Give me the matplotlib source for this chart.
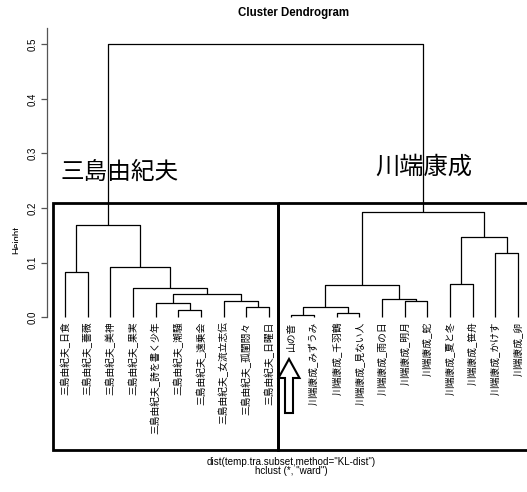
import numpy as np
import matplotlib
matplotlib.use('Agg')
import matplotlib.pyplot as plt
from matplotlib.patches import Rectangle, Polygon

plt.rcParams['font.family'] = ['Liberation Sans', 'DejaVu Sans']
JP = ['Noto Sans CJK JP', 'DejaVu Sans']

# leaf labels in dendrogram order
labels = ['三島由紀夫_日食', '三島由紀夫_薔薇', '三島由紀夫_美神', '三島由紀夫_果実',
          '三島由紀夫_詩を書く少年', '三島由紀夫_潮騒', '三島由紀夫_遠乗会',
          '三島由紀夫_女流立志伝', '三島由紀夫_孤閨悶々', '三島由紀夫_日曜日',
          '山の音', '川端康成_みずうみ', '川端康成_千羽鶴', '川端康成_見ない人',
          '川端康成_雨の日', '川端康成_明月', '川端康成_蛇', '川端康成_夏と冬',
          '川端康成_笹舟', '川端康成_かけす', '川端康成_卵']

# R style merge table: negative = leaf (1-based position), positive = earlier merge
merge_a = [-11, -13, -6, -9, 1, -5, -8, -16, -15, 6, -4, 5, -18, -1, -3, -20, 13, 14, 12, 18]
merge_b = [-12, -14, -7, -10, 2, 3, 4, -17, 8, 7, 10, 9, -19, -2, 11, -21, 16, 15, 17, 19]
heights = [0.004, 0.008, 0.013, 0.018, 0.019, 0.025, 0.029, 0.029, 0.034, 0.042,
           0.054, 0.058, 0.061, 0.083, 0.091, 0.117, 0.146, 0.169, 0.192, 0.500]

yticks = [0.0, 0.1, 0.2, 0.3, 0.4, 0.5]

W, H = 527, 492
fig = plt.figure(figsize=(W / 100, H / 100), dpi=100)

# main plot region (pixel positions)
left_px, right_px, top_px, bot_px = 47, 527, 28, 328
ax = fig.add_axes([left_px / W, (H - bot_px) / H, (right_px - left_px) / W, (bot_px - top_px) / H])
ax.set_xlim(0.205, 21.4)
ax.set_ylim(-0.02, 0.53)

node_x = []
node_h = []


def pos(k):
    if k < 0:
        return float(-k), 0.0
    return node_x[k - 1], node_h[k - 1]


for a, b, h in zip(merge_a, merge_b, heights):
    xa, ha = pos(a)
    xb, hb = pos(b)
    ax.plot([xa, xa, xb, xb], [ha, h, h, hb], color='black', lw=0.9, solid_capstyle='butt')
    node_x.append((xa + xb) / 2)
    node_h.append(h)

for i, lab in enumerate(labels):
    ax.text(i + 1, -0.008, lab, rotation=90, ha='center', va='top',
            fontsize=7, family=JP, clip_on=False)

for s in ['top', 'right', 'bottom']:
    ax.spines[s].set_visible(False)
ax.spines['left'].set_bounds(0, 0.53)
ax.spines['left'].set_color('#555555')
ax.spines['left'].set_linewidth(0.9)
ax.set_xticks([])
ax.set_yticks(yticks)
ax.set_yticklabels(['%.1f' % v for v in yticks], rotation=90, va='center', fontsize=7)
ax.tick_params(axis='y', length=4, width=0.9, color='#555555', pad=3)

# overlay in pixel coordinates for title, annotation boxes and arrow
ov = fig.add_axes([0, 0, 1, 1], facecolor='none')
ov.set_xlim(0, W)
ov.set_ylim(H, 0)
ov.axis('off')

ov.text(294, 13, 'Cluster Dendrogram', ha='center', va='center', fontsize=8.3, fontweight='bold')
ov.text(291, 462, 'dist(temp.tra.subset,method="KL-dist")', ha='center', va='center', fontsize=7.1)
ov.text(291, 471, 'hclust (*, "ward")', ha='center', va='center', fontsize=7.1)

ht = ov.text(17, 240, 'Height', rotation=90, ha='center', va='center', fontsize=7)
ht.set_clip_path(Rectangle((0, 0), 18, H, transform=ov.transData))
ht.set_clip_on(True)

ov.add_patch(Rectangle((53, 203), 225, 247, fill=False, lw=2.0, edgecolor='black'))
ov.add_patch(Rectangle((278, 203), 260, 247, fill=False, lw=2.0, edgecolor='black'))

ov.text(120, 172, '三島由紀夫', ha='center', va='center', fontsize=17, family=JP)
ov.text(424, 167, '川端康成', ha='center', va='center', fontsize=17.5, family=JP)

arrow = [(289, 359), (299.5, 378), (293, 378), (293, 413), (285, 413), (285, 378), (278.5, 378)]
ov.add_patch(Polygon(arrow, closed=True, facecolor='white', edgecolor='black', lw=1.5))

fig.savefig('out.png', dpi=100)
